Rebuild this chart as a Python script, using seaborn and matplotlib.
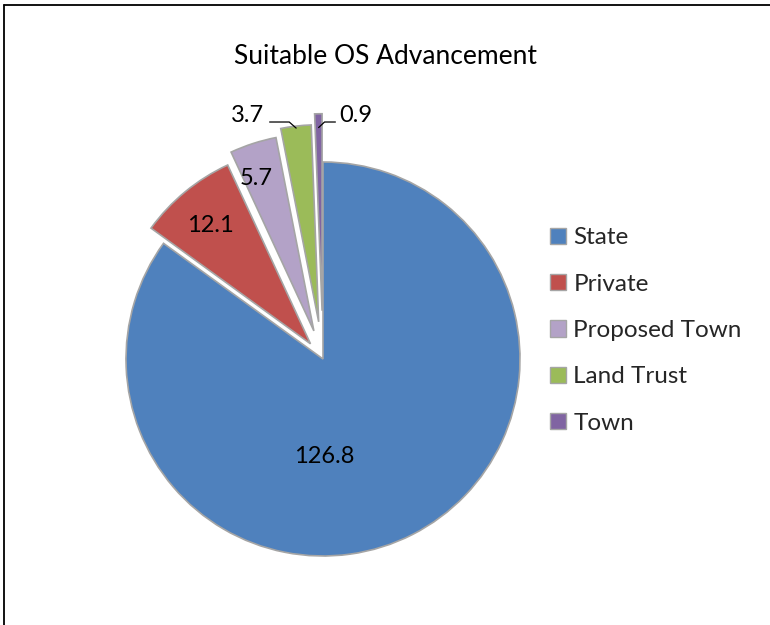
import matplotlib
matplotlib.use("Agg")
import matplotlib.pyplot as plt
import seaborn as sns
import numpy as np
from matplotlib.patches import Patch
from matplotlib.lines import Line2D

# ---- data ----
categories = ["State", "Private", "Proposed Town", "Land Trust", "Town"]
values = [126.8, 12.1, 5.7, 3.7, 0.9]
value_labels = ["126.8", "12.1", "5.7", "3.7", "0.9"]
title = "Suitable OS Advancement"

# ---- style ----
colors = ["#4F81BD", "#C0504D", "#B3A2C7", "#9BBB59", "#8064A2"]
explode = [0.0, 0.10, 0.15, 0.19, 0.245]
# label anchor (x centre, baseline y) in pie-radius units
label_pos = [(0.005, -0.528), (-0.57, 0.645), (-0.34, 0.883), (-0.381, 1.203), (0.168, 1.203)]

sns.set_theme(style="white")
plt.rcParams['font.family'] = ['Lato', 'DejaVu Sans']

W, H = 770, 625
fig = plt.figure(figsize=(W / 100, H / 100), dpi=100)
fig.patch.set_facecolor("white")

R = 197.0
cx, cy = 323.0, 359.0
half = 250.0
ax = fig.add_axes([(cx - half) / W, (H - cy - half) / H, 2 * half / W, 2 * half / H])
wedges, _ = ax.pie(values, colors=colors, explode=explode, startangle=90,
                   counterclock=False,
                   wedgeprops=dict(edgecolor="#A5A5A5", linewidth=1.2))
ax.set_xlim(-half / R, half / R)
ax.set_ylim(-half / R, half / R)
ax.set_aspect("equal")
ax.axis("off")

FS_LAB = 17
FS_LEG = 17.5
FS_TTL = 19
for (x, y), t in zip(label_pos, value_labels):
    ax.text(x, y, t, ha="center", va="baseline", fontsize=FS_LAB, color="black")

def wedge_point(w, frac):
    mid = np.deg2rad((w.theta1 + w.theta2) / 2)
    c = np.array(w.center)
    return c + frac * w.r * np.array([np.cos(mid), np.sin(mid)])

# leader lines for the two thin slices
e = wedge_point(wedges[3], 0.99)
by = label_pos[3][1]
ax.plot([label_pos[3][0] + 0.11, e[0] - 0.035, e[0]], [by, by, e[1]], color="black", lw=0.9)
e = wedge_point(wedges[4], 0.93)
by = label_pos[4][1]
ax.plot([label_pos[4][0] - 0.105, e[0] + 0.03, e[0]], [by, by, e[1]], color="black", lw=0.9)

# title
fig.text(385 / W, 1 - 64 / H, title, ha="center", va="baseline", fontsize=FS_TTL, color="black")

# legend
handles = [Patch(facecolor=c, edgecolor="#A5A5A5", linewidth=1.0) for c in colors]
fig.legend(handles, categories, loc="upper left", bbox_to_anchor=(550 / W, 1 - 227.5 / H),
           frameon=False, fontsize=FS_LEG, handlelength=0.66, handleheight=0.66,
           handletextpad=0.3, labelspacing=1.04, borderpad=0, borderaxespad=0)

# outer border (chart area, cropped at right/bottom)
fig.add_artist(Line2D([4 / W, 4 / W], [0, 1 - 5 / H], transform=fig.transFigure, color="black", lw=1.3))
fig.add_artist(Line2D([4 / W, 1], [1 - 5 / H, 1 - 5 / H], transform=fig.transFigure, color="black", lw=1.3))

fig.savefig("out.png", dpi=100)
